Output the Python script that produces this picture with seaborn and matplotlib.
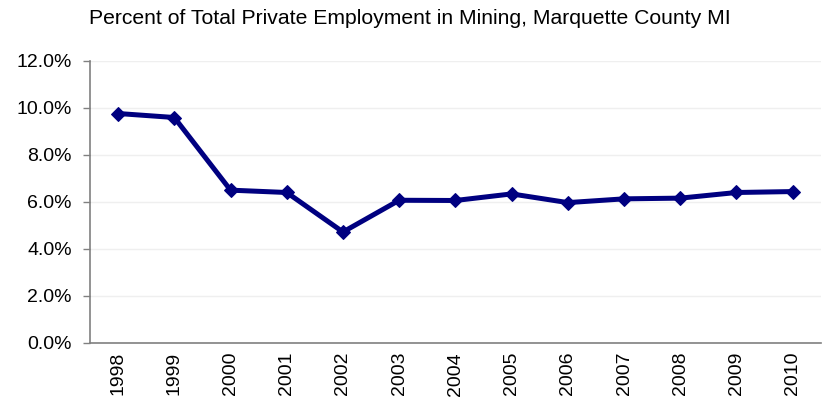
import matplotlib
matplotlib.use("Agg")
import matplotlib.pyplot as plt
import seaborn as sns
import numpy as np
import pandas as pd
from matplotlib.ticker import FuncFormatter, FixedLocator

# Datos
anios = ['1998', '1999', '2000', '2001', '2002', '2003', '2004',
         '2005', '2006', '2007', '2008', '2009', '2010']
porcentaje = [9.76, 9.59, 6.50, 6.40, 4.72, 6.07, 6.06,
              6.34, 5.97, 6.13, 6.16, 6.40, 6.44]

df = pd.DataFrame({'pos': np.arange(len(anios)), 'pct': porcentaje})

sns.set_style("white")
plt.rcParams['font.family'] = ['Liberation Sans', 'DejaVu Sans']
plt.rcParams['text.color'] = 'black'
plt.rcParams['xtick.labelcolor'] = 'black'
plt.rcParams['ytick.labelcolor'] = 'black'

fig = plt.figure(figsize=(8.22, 4.03), dpi=100)
ax = fig.add_axes([0.1095, 0.149, 0.889, 0.70])

sns.lineplot(data=df, x='pos', y='pct', color='#000080', linewidth=3.6,
             marker='D', markersize=7, markeredgecolor='#000080', ax=ax)

ax.set_xlim(-0.5, len(anios) - 0.5)
ax.set_ylim(0, 12)
ax.set_yticks(np.arange(0, 12.1, 2))
ax.yaxis.set_major_formatter(FuncFormatter(lambda v, p: f'{v:.1f}%'))
ax.grid(axis='y', color='#efefef', linewidth=1)
ax.set_axisbelow(True)

ax.set_xticks(df['pos'])
ax.set_xticklabels(anios, rotation=90)
ax.xaxis.set_minor_locator(FixedLocator(np.arange(-0.5, len(anios), 1.0)))
ax.tick_params(axis='x', which='major', length=0, pad=6.5, labelsize=14,
               labelcolor='black')
ax.tick_params(axis='x', which='minor', length=5, width=1, color='#808080',
               direction='out')
ax.tick_params(axis='y', length=5, width=1, color='#808080', direction='out',
               labelsize=14, pad=8, left=True, labelcolor='black')

for s in ['top', 'right']:
    ax.spines[s].set_visible(False)
for s in ['left', 'bottom']:
    ax.spines[s].set_color('#808080')
    ax.spines[s].set_linewidth(1.2)

ax.set_xlabel('')
ax.set_ylabel('')
fig.text(0.108, 0.955, 'Percent of Total Private Employment in Mining, Marquette County MI',
         fontsize=15.2, ha='left', va='center', color='black')

fig.savefig('out.png', dpi=100)
